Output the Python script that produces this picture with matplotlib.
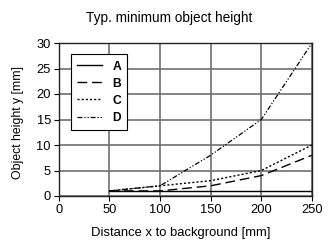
import matplotlib.pyplot as plt

distance = [50, 100, 150, 200, 250]
height_a = [1, 1, 1, 1, 1]
height_b = [1, 1, 2, 4, 8]
height_c = [1, 2, 3, 5, 10]
height_d = [1, 2, 8, 15, 30]

plt.rcParams["font.family"] = ["Liberation Sans", "DejaVu Sans"]

fig = plt.figure(figsize=(3.35, 2.42), dpi=100)
ax = fig.add_axes([58.7 / 335, 1 - 196 / 242, 253.3 / 335, 153 / 242])

ax.plot(distance, height_a, color="black", lw=1.0, ls="-", label="A")
ax.plot(distance, height_b, color="black", lw=1.0, ls=(0, (7, 3.5)), label="B")
ax.plot(distance, height_c, color="black", lw=1.0, ls=(0, (1.5, 1.5)), label="C")
ax.plot(distance, height_d, color="black", lw=0.9, ls=(0, (4, 1.5, 1, 1.5, 1, 1.5)), label="D")

ax.set_xlim(0, 250)
ax.set_ylim(0, 30)
ax.set_xticks(range(0, 251, 50))
ax.set_yticks(range(0, 31, 5))
ax.grid(True, color="#707070", lw=1.2)
ax.set_axisbelow(True)
for s in ax.spines.values():
    s.set_color("#222222")
    s.set_linewidth(1.0)
ax.tick_params(labelsize=9.3, length=3.6, width=0.8, pad=2)

ax.set_xlabel("Distance x to background [mm]", fontsize=9.4)
ax.xaxis.set_label_coords(0.481, -0.2)
ax.set_ylabel("Object height y [mm]", fontsize=8.8)
ax.yaxis.set_label_coords(-0.137, 0.48)
fig.text(169 / 335, 1 - 22 / 242, "Typ. minimum object height", fontsize=9.8,
         ha="center", va="baseline")

leg = ax.legend(loc="upper left", bbox_to_anchor=(0.048, 0.925), borderaxespad=0,
                frameon=True, fancybox=False, edgecolor="black", framealpha=1,
                handlelength=2.1, handletextpad=0.85,
                labelspacing=0.42, borderpad=0.5,
                prop={"weight": "bold", "size": 8.7})
leg.get_frame().set_linewidth(0.8)

fig.savefig("out.png", dpi=100)
